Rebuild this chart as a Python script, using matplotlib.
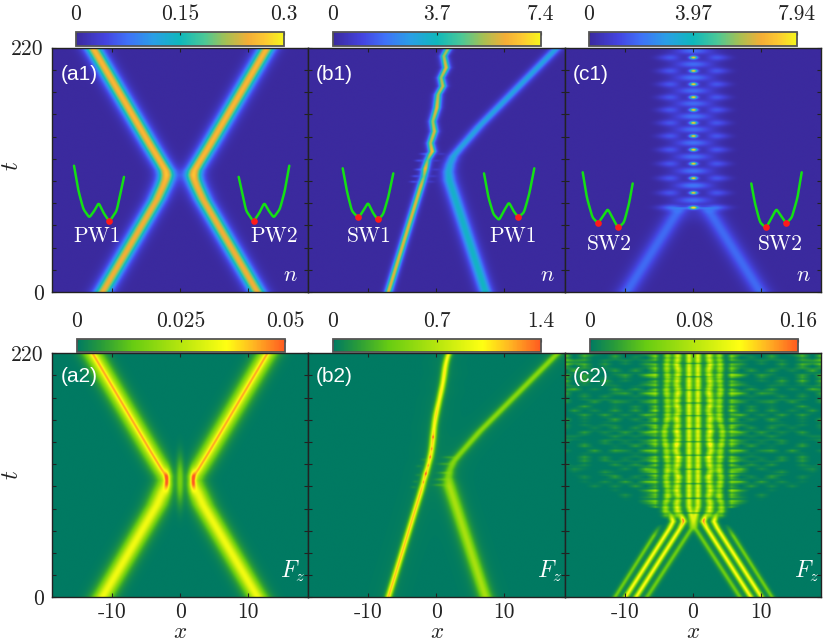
import numpy as np
import matplotlib
matplotlib.use("Agg")
import matplotlib.pyplot as plt
from matplotlib.colors import LinearSegmentedColormap

W, H = 830, 643
plt.rcParams['mathtext.fontset'] = 'cm'
plt.rcParams['axes.unicode_minus'] = False
CM = ['cmr10', 'DejaVu Serif']

# ------------------------------------------------------------- colour scales
n_cols = [(0, '#3b2a9e'), (.14, '#4444e0'), (.25, '#3f72f8'), (.37, '#2a9ee6'), (.5, '#0fb8bc'),
          (.62, '#4cc896'), (.72, '#a4c054'), (.83, '#f4ae36'), (.91, '#fdc832'), (1, '#f6f61c')]
f_cols = [(0, '#007a62'), (.12, '#2a9c38'), (.27, '#68cc12'), (.5, '#b6e60e'), (.72, '#ffff12'),
          (.85, '#ffb622'), (1, '#ff5a20')]
cmap_n = LinearSegmentedColormap.from_list('n', n_cols)
cmap_f = LinearSegmentedColormap.from_list('f', f_cols)

# ------------------------------------------------------------- values
x_axis = np.linspace(-18.85, 18.85, 700)
t_axis = np.linspace(0, 220, 660)
limits = {'a1': 0.3, 'b1': 7.4, 'c1': 7.94, 'a2': 0.05, 'b2': 1.4, 'c2': 0.16}
ticklabels = {'a1': ['0', '0.15', '0.3'], 'b1': ['0', '3.7', '7.4'], 'c1': ['0', '3.97', '7.94'],
              'a2': ['0', '0.025', '0.05'], 'b2': ['0', '0.7', '1.4'], 'c2': ['0', '0.08', '0.16']}

# (a) symmetric collision: left beam centre against t (right is the mirror)
a_t = [0, 83, 95, 101, 105, 109, 115, 131, 220]
a_x = [-11.4, -3.4, -2.5, -2.12, -2.0, -2.12, -2.7, -4.3, -12.9]
a1_amp = [.25, .25, .255, .26, .27, .265, .26, .26, .26]
a2_wide = [.034, .034, .034, .03, .026, .03, .032, .032, .032]
a2_core = [0, 0, 0, .004, .006, .008, .012, .012, .012]

# (b) asymmetric collision
b_left_t = [0, 96, 103.6, 111.2, 118.7, 126.2, 133.7, 144.3, 153.3, 165.4, 177.4, 185, 192.5, 201.6, 212, 220]
b_left_x = [-7.06, -2.25, -1.85, -1.62, -1.3, -0.63, -0.88, -0.3, -0.54, 0.05, 0.24, 0.93, 0.68, 1.42, 1.08, 1.81]
b_left_a = [6.0, 6.0, 5.0, 6.4, 4.8, 6.5, 5.6, 6.0, 5.4, 6.2, 5.5, 5.8, 5.4, 6.2, 5.4, 5.6]
b_right_t = [0, 100, 108, 115, 122, 128, 149, 220]
b_right_x = [7.2, 1.9, 1.75, 2.0, 2.5, 3.3, 6.3, 17.8]
b_right_a = [3.6, 3.4, 3.2, 3.0, 3.0, 2.9, 2.9, 2.9]
b_right_w = [.95, .95, .9, .85, .8, .8, .8, .8]
b_fringe_t = [99, 104, 110, 118, 124]
b_fringe_x = [-3.4, -3.1, -2.7, -2.6, -1.9]
b2_left_a = [1.15, 1.15, 1.0, 1.2, 1.0, 1.1, 1.05, 1.15, 1.0, 1.1, 1.0, 1.05, 1.0, 1.05, 1.0, 1.0]
b2_right_a = [.6, .6, .45, .42, .45, .45, .48, .48]
b2_right_w = [.85, .85, .7, .6, .6, .6, .6, .6]

# (c) bound state: beam, bright spots, stripes
c_t = [0, 62, 68, 72, 76]
c_x = [-9.8, -3.4, -2.8, -2.3, -1.6]
c_a = [1.85, 1.85, 1.85, 1.85, 1.2]
spot_t = [75.7, 89, 102.2, 115.2, 127.8, 140.1, 151.9, 163.6, 175, 186.7, 198.7, 210.7]
spot_a = [6.4, 6.5, 6.7, 6.7, 6.9, 6.5, 6.7, 6.5, 6.7, 6.7, 6.5, 6.5]
lobe_a = [1.9, 2.1, 2.0, 1.9, 2.0, 1.9, 2.0, 1.9, 1.9, 2.0, 1.9, 1.9]

s1_t = [0, 62, 68, 74, 82, 220]
s1_x = [-6.8, -.25, -.2, -.35, -.65, -.65]
s1_a = [.045, .045, .06, .09, .1, .1]
s2_t = [0, 62, 68, 74, 84]
s2_x = [-8.4, -1.95, -1.45, -1.8, -2.35]
s2_a = [.115, .115, .14, .12, .11]
s3_t = [0, 62, 68, 74, 80]
s3_x = [-9.95, -3.5, -3.0, -3.3, -3.9]
s3_a = [.115, .115, .115, .1, .09]
s4_t = [0, 55, 66]
s4_x = [-11.5, -5.85, -4.8]
s4_a = [.045, .045, 0]

row_t = list(range(78, 223, 6))
off2 = [0, .1, -.1, .1, .0, -.1, .15, .0, -.1, .2, .1, -.05, .1, .0, .1, -.1, .1, .05, -.1, .1, .0, -.1, .1, -.05, 0]
off3 = [.2, .2, -.1, -.1, 0, .1, -.1, -.1, 0, .05, .2, .35, .35, .1, -.1, -.1, -.1, -.05, .05, 0, -.1, 0, 0, -.1, -.1]
amp2 = [.11, .1, .085, .105, .09, .11, .085, .1, .12, .095, .125, .09, .115, .09, .105, .085, .11, .09, .11, .085, .1, .09, .115, .09, .11]
amp3 = [.08, .065, .09, .06, .085, .07, .09, .06, .085, .07, .08, .06, .08, .06, .085, .065, .08, .06, .085, .06, .08, .065, .085, .06, .08]
fine_rows = [1, .55, .95, .35, .85, .6, 1, .4, .75, .95, .3, .8]

# radiation strength (0-9) by t row (80, 84, ... 220) and |x| column
rad_x = [4.7, 5.6, 7, 8.5, 10, 11.5, 13, 14.5, 16, 17.5, 18.85]
rad_rows = ['4100000000', '5200000000', '5301000000', '4102000000', '6300100000', '3030202000',
            '5403020100', '4020300200', '6300130010', '3402000120', '5030300202', '6302030300',
            '3020010200', '5402303002', '4030100300', '6302030102', '3020300022', '5403020300',
            '6030302002', '4300120202', '5020300103', '3402030300', '6030302030', '4020100300',
            '5302303003', '3020030302', '6403200103', '4030302042', '5300120203', '3002030404',
            '6403100304', '4030302040', '5200020404', '3303030345', '5020300304', '4300202405']
rad_edge_x = [5, 10, 15, 18.85]
rad_edge_t = [78, 85, 92, 100]

# double-well sketches: momentum-like coordinate, energy, marked points
pw_k = [0, 13, 28, 46, 61, 74, 88, 106, 128, 150]
pw_v = [165, 92, 37, 12, 32, 56, 27, 0, 32, 132]
pwb_k = [0, 13, 28, 45, 60, 75, 88, 103, 120, 136, 151]
pwb_v = [138, 68, 18, 0, 28, 53, 28, 8, 23, 78, 153]
sw1_k = [0, 12, 27, 47, 62, 76, 90, 106, 122, 137, 152]
sw1_v = [153, 88, 28, 6, 28, 52, 23, 0, 18, 68, 138]
sw2_k = [0, 12, 29, 46, 62, 75, 89, 106, 124, 139, 150]
sw2_v = [165, 92, 32, 14, 37, 57, 32, 0, 17, 72, 132]


# ------------------------------------------------------------- helpers
def smooth(y, n):
    pad = np.pad(y, n + 2, mode='reflect', reflect_type='odd')
    ker = np.hanning(2 * n + 3)
    return np.convolve(pad, ker / ker.sum(), mode='same')[n + 2:-(n + 2)]


def ridge(tk, xk, ak, w, sm=4, sign=1):
    c = sign * smooth(np.interp(t_axis, tk, xk), sm)
    a = np.interp(t_axis, tk, ak)
    wd = np.interp(t_axis, tk, w) if np.ndim(w) else np.full_like(t_axis, w)
    if tk[-1] < 220:
        a = np.where(t_axis > tk[-1], 0, a)
    return a[:, None] / np.cosh((x_axis[None, :] - c[:, None]) / wd[:, None]) ** 2


def blob(x0, t0, sx, st, a):
    return a * np.exp(-((x_axis[None, :] - x0) / sx) ** 2) * np.exp(-((t_axis[:, None] - t0) / st) ** 2)


# ------------------------------------------------------------- fields
fields = {}
fields['a1'] = ridge(a_t, a_x, a1_amp, 1.15) + ridge(a_t, a_x, a1_amp, 1.15, sign=-1)

a2 = ridge(a_t, a_x, a2_wide, 1.3) + ridge(a_t, a_x, a2_wide, 1.3, sign=-1)
a2 += ridge(a_t, a_x, a2_core, .3) + ridge(a_t, a_x, a2_core, .3, sign=-1)
a2 *= 1 - blob(0, 105, 1.15, 28, 1.0)
for s in (-1, 1):
    a2 += blob(s * 1.9, 105, .42, 9, .022)
a2 += blob(0, 105, .55, 20, .016)
fields['a2'] = a2

b1 = ridge(b_left_t, b_left_x, b_left_a, .5, sm=1) + ridge(b_right_t, b_right_x, b_right_a, b_right_w, sm=4)
for tf, xf in zip(b_fringe_t, b_fringe_x):
    b1 += blob(xf, tf, .55, 1.0, 1.1)
    b1 += blob(xf + 2.6, tf, .55, 1.0, .5)
fields['b1'] = b1

b2 = ridge(b_left_t, b_left_x, b2_left_a, .38, sm=60) + ridge(b_right_t, b_right_x, b2_right_a, b2_right_w, sm=4)
b2 += ridge(b_left_t, b_left_x, [.03] * len(b_left_t), 2.2, sm=8)
b2 += ridge(b_right_t, b_right_x, [.04] * len(b_right_t), 2.2, sm=5)
for tf, xf in zip(b_fringe_t, b_fringe_x):
    b2 += blob(xf + 3.7, tf + 2, .8, 1.1, .14)
    b2 += blob(xf, tf, .4, 1.1, .07)
b2_smooth = smooth(np.interp(t_axis, b_left_t, b_left_x), 60)
for ts in b_left_t[2:8]:
    b2 += blob(np.interp(ts, t_axis, b2_smooth), ts, .16, 1.4, .25)
fields['b2'] = b2

c1 = ridge(c_t, c_x, c_a, 1.35) + ridge(c_t, c_x, c_a, 1.35, sign=-1)
edges = spot_t + [spot_t[-1] + 12]
for i, (ts, sa, la) in enumerate(zip(spot_t, spot_a, lobe_a)):
    tm = .5 * (edges[i] + edges[i + 1])
    c1 += blob(0, ts, .5, 1.3, sa)
    c1 += blob(0, ts, 1.0, 2.0, .9)
    c1 += blob(0, tm, 2.7, 3.5, la)
    for s in (-1, 1):
        c1 += blob(s * 3.3, ts, 1.4, 3.2, 1.35)
        c1 += blob(s * 4.8, ts, 1.2, 2.4, .35)
c1 += blob(0, 76.5, 3.8, 1.8, .9) + blob(0, 222, 1.4, 2.0, 2.4) + blob(0, 68, 2.2, 6, .2)
fields['c1'] = c1

fine = np.array(fine_rows)[(t_axis / 1.9).astype(int) % len(fine_rows)].astype(float)
fine = smooth(fine, 1)[:, None]
s_env = np.interp(t_axis, [0, 70, 78, 220], [1, 1, 0, 0])[:, None]
onset = np.clip((t_axis[:, None] - 70) / 8, 0, 1)
low = sum(ridge(a, b, c, .38, sm=3, sign=s) for a, b, c in
          [(s2_t, s2_x, s2_a), (s3_t, s3_x, s3_a), (s4_t, s4_x, s4_a)] for s in (-1, 1))
A2 = np.interp(t_axis, row_t, amp2)[:, None]
A3 = np.interp(t_axis, row_t, amp3)[:, None]
O2 = np.interp(t_axis, row_t, off2)[:, None]
O3 = np.interp(t_axis, row_t, off3)[:, None]
up = np.zeros_like(low)
for s in (-1, 1):
    up += onset * A2 * (.6 + .4 * fine) / np.cosh((x_axis[None, :] - s * (2.35 + O2)) / .5) ** 2
    up += onset * A3 * (.4 + .6 * fine) / np.cosh((x_axis[None, :] - s * (3.9 + O3)) / .5) ** 2
c2 = ridge(s1_t, s1_x, s1_a, .42, sm=2) + ridge(s1_t, s1_x, s1_a, .42, sm=2, sign=-1)
c2 *= np.where(t_axis[:, None] > 78, .8 + .2 * fine, 1)
c2 += low * s_env + up
# breaks in the inner stripes at the bright-spot times
for ts in spot_t:
    c2 *= 1 - blob(0, ts, 3.0, .75, .7)
# radiation field
rad = np.array([[0] + [int(ch) for ch in r] for r in rad_rows], float)
rad_t = np.arange(80, 80 + 4 * len(rad_rows), 4)
absx = np.abs(x_axis)
rx = np.array([np.interp(absx, rad_x, row) for row in rad])
rf = np.array([np.interp(t_axis, rad_t, rx[:, j], left=0) for j in range(rx.shape[1])]).T
mask = np.clip((t_axis[:, None] - np.interp(absx, rad_edge_x, rad_edge_t)[None, :]) / 3, 0, 1)
c2 += .075 * (rf / 6) ** 1.5 * mask * fine
c2 += blob(-1.5, 70, .3, 2.5, .015) + blob(1.5, 70, .3, 2.5, .015)
fields['c2'] = c2


# ------------------------------------------------------------- layout
def px_axes(x0, y0, x1, y1, **kw):
    return fig.add_axes([x0 / W, 1 - y1 / H, (x1 - x0) / W, (y1 - y0) / H], **kw)


def ftext(x, y, s, **kw):
    kw.setdefault('ha', 'center')
    kw.setdefault('va', 'center')
    return fig.text(x / W, 1 - y / H, s, **kw)


fig = plt.figure(figsize=(W / 100, H / 100), dpi=100, facecolor='white')
cols = {'a': (52.3, 308), 'b': (308, 564.5), 'c': (564.5, 821)}
rows = {'1': (47.7, 292), '2': (353.3, 597.3)}
cbars = {'a1': (76, 284, 32, 45.5), 'b1': (333, 541, 32, 45.5), 'c1': (589, 797, 32, 45.5),
         'a2': (77, 285, 339, 352), 'b2': (333, 541, 339, 352), 'c2': (590, 798, 339, 352)}
dark = '#222222'

for key, F in fields.items():
    c, r = key
    x0, x1 = cols[c]
    y0, y1 = rows[r]
    ax = px_axes(x0, y0, x1, y1)
    cm_ = cmap_n if r == '1' else cmap_f
    im = ax.imshow(F, origin='lower', aspect='auto', extent=[x_axis[0], x_axis[-1], 0, 220],
                   cmap=cm_, vmin=0, vmax=limits[key], interpolation='bilinear')
    ax.set_xlim(-18.85, 18.85)
    ax.set_ylim(0, 220)
    ax.set_xticks([-10, 0, 10])
    ax.set_yticks(np.arange(0, 221, 20))
    ax.tick_params(direction='in', length=3, width=.8, color=dark, top=True, right=True)
    ax.set_xticklabels(['-10', '0', '10'] if r == '2' else [], family=CM, fontsize=15.5, color='#222222')
    ax.tick_params(axis='x', pad=4)
    ax.tick_params(axis='y', pad=6)
    ylabels = ['' for _ in range(12)]
    if c == 'a':
        ylabels[0], ylabels[-1] = '0', '220'
    ax.set_yticklabels(ylabels, family=CM, fontsize=15.5, color='#222222')
    for sp in ax.spines.values():
        sp.set_color(dark)
        sp.set_linewidth(1)

    cx0, cx1, cy0, cy1 = cbars[key]
    cax = px_axes(cx0, cy0, cx1, cy1)
    lim = limits[key]
    cb = fig.colorbar(im, cax=cax, orientation='horizontal', ticks=[0, lim / 2, lim], ticklocation='top')
    cb.ax.set_xticklabels(ticklabels[key], family=CM, fontsize=15.5, color='#222222')
    cb.ax.tick_params(direction='in', length=2, width=.8, pad=6, color=dark)
    cb.outline.set_edgecolor('#555555')
    cb.outline.set_linewidth(1.3)

tag_x = {'a': 79, 'b': 334.3, 'c': 591}
tag_y = {'1': 74.7, '2': 376}
for key in fields:
    ftext(tag_x[key[0]], tag_y[key[1]], f'({key})', color='white', family='Liberation Sans', fontsize=15)
for x, y in [(290, 275), (547.3, 275), (803.3, 275)]:
    ftext(x, y, r'$n$', color='white', fontsize=16)
for x, y in [(292.7, 571.7), (549.3, 571.7), (806.7, 571.7)]:
    ftext(x, y, r'$F_z$', color='white', fontsize=17)
for y in (166, 475):
    ftext(11, y, r'$t$', rotation=90, fontsize=18, color='#222222')
for x in (180, 436.7, 693.3):
    ftext(x, 631.5, r'$x$', fontsize=16.5, color='#222222')

wells = [
    (74, 124, 165.7, 220.7, pw_k, pw_v, [106], False, 'PW1', 96.7, 236.7),
    (238.7, 289.3, 165.7, 220.7, pw_k, pw_v, [106], True, 'PW2', 274, 236.7),
    (342.7, 393.3, 168.3, 219.3, sw1_k, sw1_v, [47, 106], False, 'SW1', 369, 236.7),
    (484, 534.3, 168.3, 219.3, pwb_k, pwb_v, [103], False, 'PW1', 513.3, 236.7),
    (582.7, 632.7, 172.3, 227.3, sw2_k, sw2_v, [46, 106], False, 'SW2', 609.3, 244.3),
    (751.3, 801.7, 172.3, 227.3, sw2_k, sw2_v, [46, 106], True, 'SW2', 780, 244.3),
]
for xa, xb, ya, yb, k, v, marks, flip, name, lx, ly in wells:
    iax = px_axes(xa, ya, xb, yb)
    iax.patch.set_alpha(0)
    iax.axis('off')
    kk = np.linspace(k[0], k[-1], 400)
    vv = smooth(np.interp(kk, k, v), 16)
    iax.plot(kk, vv, color='#14e014', lw=1.8, solid_capstyle='round', clip_on=False)
    iax.plot(marks, np.interp(marks, kk, vv), 'o', color='#ff1a1a', ms=4.8, mew=0, clip_on=False, zorder=5)
    iax.set_xlim((k[-1], k[0]) if flip else (k[0], k[-1]))
    iax.set_ylim(vv.min(), max(v))
    ftext(lx, ly, name, color='white', family=CM, fontsize=15.5)

fig.savefig('out.png', dpi=100, facecolor='white')
